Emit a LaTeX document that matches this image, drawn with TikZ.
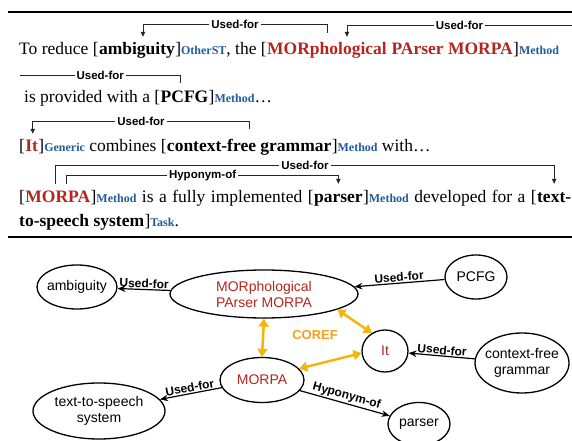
\documentclass[tikz,border=0pt]{standalone}
\usepackage{fontspec}
\setmainfont{Liberation Serif}
\setsansfont{Liberation Sans}
\usepackage{xcolor}
\usetikzlibrary{shapes.geometric,arrows.meta,positioning}

\definecolor{entred}{HTML}{B3261E}
\definecolor{tagblue}{HTML}{1F5C99}
\definecolor{corefgold}{HTML}{F5B50A}
\definecolor{corefora}{HTML}{F5A020}
\newcommand{\etag}[1]{{\fontsize{12}{14}\selectfont\bfseries\color{tagblue}#1}}

\begin{document}
\begin{tikzpicture}[x=1pt, y=1pt,
    node distance=0pt,
    txt/.style={inner sep=0pt, text height=12pt, text depth=4pt, font=\fontsize{17.5}{20}\selectfont},
    word/.style={txt, font=\fontsize{17.5}{20}\selectfont\bfseries},
    redword/.style={word, text=entred},
    arc/.style={draw=black!85, line width=0.8pt, >={Triangle[length=5pt,width=4.5pt]}},
    rellabel/.style={fill=white, inner sep=2pt, font=\fontsize{11.5}{13}\selectfont\sffamily\bfseries},
    entity/.style={ellipse, draw, line width=1.3pt, inner sep=0pt, align=center, font=\fontsize{14}{16}\selectfont\sffamily},
    rel/.style={line width=1.2pt, -{Stealth[length=8pt,width=6.5pt]}},
    edgelabel/.style={midway, above, sloped, inner sep=1pt, font=\fontsize{12}{14}\selectfont\sffamily\bfseries},
    coref/.style={draw=corefgold, line width=2.5pt, {Triangle[length=8pt,width=10pt]}-{Triangle[length=8pt,width=10pt]}}
]
    \useasboundingbox (0,0) rectangle (572,441);
    \draw[line width=2.2pt] (8,429) -- (572,429);
    \draw[line width=2.2pt] (8,204) -- (572,204);

    \node[txt, anchor=base west] (l1a) at (19,386) {To reduce [};
    \node[word, right=of l1a] (amb) {ambiguity};
    \node[txt, right=of amb] (l1b) {]\etag{OtherST}, the [};
    \node[redword, right=of l1b] (morph) {MORphological};
    \node[redword, right=of morph] (l1c) {\ PArser MORPA};
    \node[txt, right=of l1c] (l1d) {]\etag{Method}};

    \node[txt, anchor=base west] (l2a) at (24,338) {is provided with a [};
    \node[word, right=of l2a] (pcfg) {PCFG};
    \node[txt, right=of pcfg] (l2b) {]\etag{Method}\ldots};

    \node[txt, anchor=base west] (l3a) at (19,289) {[};
    \node[redword, right=of l3a] (it) {It};
    \node[txt, right=of it] (l3b) {]\etag{Generic} combines [};
    \node[word, right=of l3b] (cfg) {context-free grammar};
    \node[txt, right=of cfg] (l3c) {]\etag{Method} with\ldots};

    \node[txt, anchor=base west] (l4a) at (19,238) {[};
    \node[redword, right=of l4a] (morpa) {MORPA};
    \node[txt, right=of morpa] (l4b) {\spaceskip=5.5pt]\etag{Method} is a fully implemented [};
    \node[word, right=of l4b] (parser) {parser};
    \node[txt, right=of parser] (l4c) {\spaceskip=5.5pt]\etag{Method} developed for a [};
    \node[word, right=of l4c] (tts) {text-};

    \node[word, anchor=base west] (tts2) at (19,214) {to-speech system};
    \node[txt, right=of tts2] (l5a) {]\etag{Task}.};

    \coordinate (l1end) at (572,416);
    \coordinate (l2start) at (20,366);
    \draw[arc,<-] ([shift={(6,6)}]amb.north) |- ([shift={(0,18)}]morph.north) node[rellabel, pos=0.75] {Used-for} -- ([shift={(0,10)}]morph.north);
    \draw[arc,<-] ([shift={(20,6)}]morph.north) |- (l1end) node[rellabel, pos=0.75] {Used-for};
    \draw[arc] (l2start) -| ([shift={(-4,8)}]pcfg.north) node[rellabel, pos=0.25] {Used-for};
    \draw[arc,<-] ([shift={(1,6)}]it.north) |- ([shift={(0,18)}]cfg.north) node[rellabel, pos=0.75] {Used-for} -- ([shift={(0,11)}]cfg.north);
    \draw[arc,->] ([shift={(-2,7)}]morpa.north) |- ([shift={(0,25)}]tts.north) node[rellabel, pos=0.75] {Used-for} -- ([shift={(0,7)}]tts.north);
    \draw[arc,->] ([shift={(9,7)}]morpa.north) |- ([shift={(0,15)}]parser.north) node[rellabel, pos=0.75] {Hyponym-of} -- ([shift={(0,7)}]parser.north);

    \node[entity, minimum width=80pt, minimum height=44pt, inner xsep=-4pt] (gamb) at (77,154) {ambiguity};
    \node[entity, minimum width=188pt, minimum height=48pt, text=entred] (gmorph) at (264,147) {MORphological\\PArser MORPA};
    \node[entity, minimum width=62pt, minimum height=44pt] (gpcfg) at (476,164) {PCFG};
    \node[entity, minimum width=46pt, minimum height=42pt, text=entred] (git) at (385,90) {It};
    \node[entity, minimum width=94pt, minimum height=60pt, inner xsep=-6pt] (gcfg) at (522,78) {context-free\\grammar};
    \node[entity, minimum width=84pt, minimum height=45pt, text=entred] (gmorpa) at (262,61) {MORPA};
    \node[entity, minimum width=132pt, minimum height=56pt] (gtts) at (99,30) {text-to-speech\\system};
    \node[entity, minimum width=62pt, minimum height=43pt] (gparser) at (419,17) {parser};

    \draw[rel] (gmorph) -- (gamb) node[edgelabel] {Used-for};
    \draw[rel] (gpcfg) -- (gmorph) node[edgelabel] {Used-for};
    \draw[rel] (gcfg) -- (git) node[edgelabel] {Used-for};
    \draw[rel] (gmorpa) -- (gtts) node[edgelabel] {Used-for};
    \draw[rel] (gmorpa) -- (gparser) node[edgelabel] {Hyponym-of};

    \draw[coref] (gmorph.south) -- (gmorpa.north);
    \draw[coref] (gmorph.-12) -- (git.126);
    \draw[coref] (gmorpa.17) -- (git.185);
    \node[text=corefora, font=\fontsize{13}{15}\selectfont\sffamily\bfseries] (coreflbl) at (315,106) {COREF};
\end{tikzpicture}
\end{document}
